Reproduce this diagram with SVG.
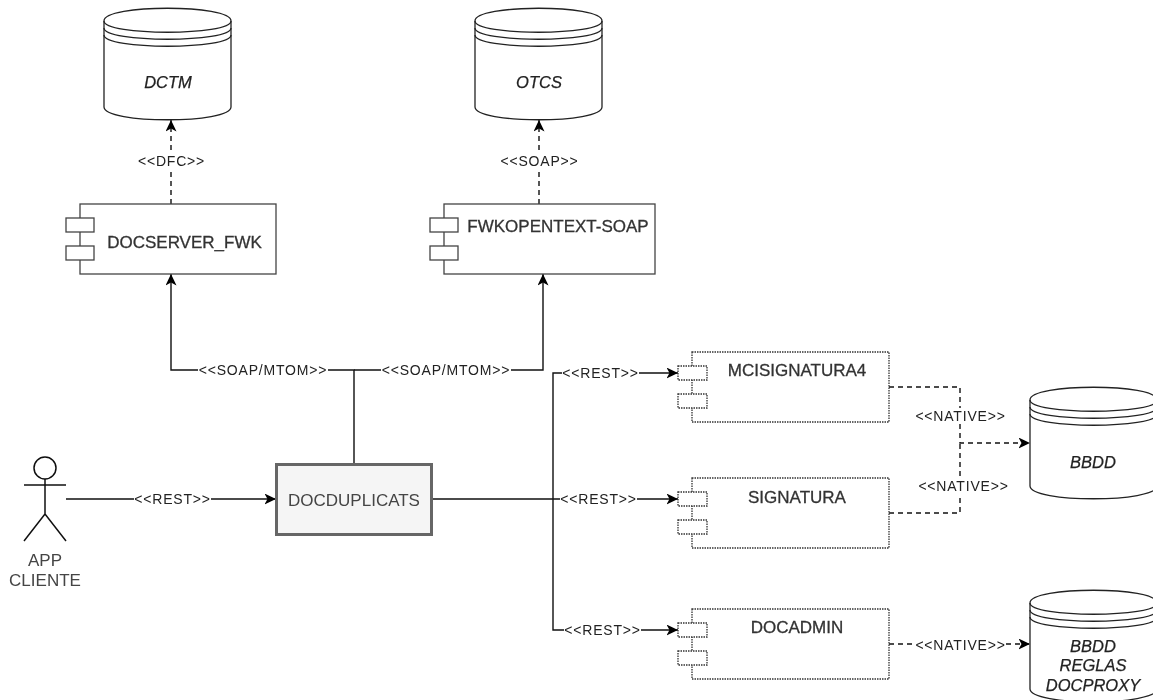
<svg xmlns="http://www.w3.org/2000/svg" width="1153" height="700" viewBox="0 0 1153 700">
<style>
text{font-family:"Liberation Sans",Arial,sans-serif;fill:#222;text-anchor:middle}
.n{font-size:17px;fill:#333;stroke:#333;stroke-width:.3}
.db{font-size:16.500px;font-style:italic;fill:#222;stroke:#222;stroke-width:.25}
.l{font-size:14px;letter-spacing:.8px}
.p{font-size:17px;fill:#444}
.s{fill:#fff;stroke:#444;stroke-width:1.3}
.o{fill:none;stroke:#222;stroke-width:1.3}
.d{fill:#fff;stroke:#333;stroke-width:1.3;stroke-dasharray:1.5 1}
.c{fill:none;stroke:#111;stroke-width:1.4}
.da{stroke-dasharray:5 4}
.bg{fill:#fff}
</style>
<defs>
<marker id="a" markerWidth="12" markerHeight="11" refX="11.500" refY="5.500" orient="auto" markerUnits="userSpaceOnUse"><path d="M0 0L11.500 5.500L0 11L3 5.500Z" fill="#000"/></marker>
<filter id="soft" x="0" y="0" width="100%" height="100%"><feGaussianBlur stdDeviation="0.4"/></filter>
<g id="cyl">
<path class="s" style="stroke:#222" d="M0 13C0 -4 127 -4 127 13V99C127 116 0 116 0 99Z"/>
<path class="o" d="M0 13C0 28 127 28 127 13M0 20C0 35 127 35 127 20M0 27C0 42 127 42 127 27"/>
</g>
</defs>
<g filter="url(#soft)">
<rect width="1153" height="700" fill="#fff"/>
<g id="connectors">
<path class="c" marker-end="url(#a)" d="M66 499H276"/>
<path class="c" marker-end="url(#a)" d="M354 464V370H171V274"/>
<path class="c" marker-end="url(#a)" d="M354 370H543V274"/>
<path class="c" marker-end="url(#a)" d="M431 499H678"/>
<path class="c" marker-end="url(#a)" d="M553 499V373H678"/>
<path class="c" marker-end="url(#a)" d="M553 499V630H678"/>
<path class="c da" marker-end="url(#a)" d="M171 204V120"/>
<path class="c da" marker-end="url(#a)" d="M539 204V120"/>
<path class="c da" marker-end="url(#a)" d="M889 387H960V443H1030"/>
<path class="c da" d="M889 513H960V443"/>
<path class="c da" marker-end="url(#a)" d="M889 644H1030"/>
<g id="labels">
<rect class="bg" x="134" y="491" width="77" height="16"/><text class="l" x="172.500" y="504">&lt;&lt;REST&gt;&gt;</text>
<rect class="bg" x="198" y="362" width="130" height="16"/><text class="l" x="263" y="375">&lt;&lt;SOAP/MTOM&gt;&gt;</text>
<rect class="bg" x="381" y="362" width="130" height="16"/><text class="l" x="446" y="375">&lt;&lt;SOAP/MTOM&gt;&gt;</text>
<rect class="bg" x="138" y="153" width="67" height="16"/><text class="l" x="171.500" y="166">&lt;&lt;DFC&gt;&gt;</text>
<rect class="bg" x="503" y="153" width="73" height="16"/><text class="l" x="539.500" y="166">&lt;&lt;SOAP&gt;&gt;</text>
<rect class="bg" x="562" y="365" width="77" height="16"/><text class="l" x="600.500" y="378">&lt;&lt;REST&gt;&gt;</text>
<rect class="bg" x="560" y="491" width="77" height="16"/><text class="l" x="598.500" y="504">&lt;&lt;REST&gt;&gt;</text>
<rect class="bg" x="564" y="622" width="77" height="16"/><text class="l" x="602.500" y="635">&lt;&lt;REST&gt;&gt;</text>
<rect class="bg" x="915" y="408" width="91" height="16"/><text class="l" x="960.500" y="421">&lt;&lt;NATIVE&gt;&gt;</text>
<rect class="bg" x="918" y="478" width="91" height="16"/><text class="l" x="963.500" y="491">&lt;&lt;NATIVE&gt;&gt;</text>
<rect class="bg" x="915" y="637" width="91" height="16"/><text class="l" x="960.500" y="650">&lt;&lt;NATIVE&gt;&gt;</text>
</g>
</g>
<g id="dctm"><use href="#cyl" x="104" y="8"/><text class="db" x="168" y="88">DCTM</text></g>
<g id="otcs"><use href="#cyl" x="475" y="8"/><text class="db" x="539" y="88">OTCS</text></g>
<g id="bbdd"><use href="#cyl" x="1030" y="387"/><text class="db" x="1093" y="468">BBDD</text></g>
<g id="bbdd-reglas"><use href="#cyl" x="1030" y="590"/><text class="db" x="1093" y="652">BBDD</text><text class="db" x="1093" y="671">REGLAS</text><text class="db" x="1093" y="691">DOCPROXY</text></g>
<g id="docserver"><rect class="s" x="80" y="204" width="196" height="70"/><rect class="s" x="66" y="218" width="28" height="14"/><rect class="s" x="66" y="246" width="28" height="14"/><text class="n" x="184.500" y="248">DOCSERVER_FWK</text></g>
<g id="fwkopentext"><rect class="s" x="444" y="204" width="211" height="70"/><rect class="s" x="430" y="218" width="28" height="14"/><rect class="s" x="430" y="246" width="28" height="14"/><text class="n" x="558" y="232">FWKOPENTEXT-SOAP</text></g>
<g id="mcisignatura4"><rect class="d" x="692" y="352" width="197" height="70"/><rect class="d" x="678" y="366" width="29" height="14"/><rect class="d" x="678" y="394" width="29" height="14"/><text class="n" x="797" y="376">MCISIGNATURA4</text></g>
<g id="signatura"><rect class="d" x="692" y="478" width="197" height="70"/><rect class="d" x="678" y="492" width="29" height="14"/><rect class="d" x="678" y="520" width="29" height="14"/><text class="n" x="797" y="503">SIGNATURA</text></g>
<g id="docadmin"><rect class="d" x="692" y="609" width="197" height="70"/><rect class="d" x="678" y="623" width="29" height="14"/><rect class="d" x="678" y="651" width="29" height="14"/><text class="n" x="797" y="633">DOCADMIN</text></g>
<g id="docduplicats"><rect x="276.500" y="464.500" width="155" height="70" fill="#f5f5f5" stroke="#666" stroke-width="3"/><text x="354" y="506" class="p">DOCDUPLICATS</text></g>
<g id="actor"><circle cx="45" cy="468" r="11" fill="#fff" stroke="#111" stroke-width="1.5"/><path d="M45 479V514M24 485H66M24 541L45 514L66 541" fill="none" stroke="#111" stroke-width="1.5"/><text x="45" y="566" class="p">APP</text><text x="45" y="586" class="p">CLIENTE</text></g>
</g>
</svg>
